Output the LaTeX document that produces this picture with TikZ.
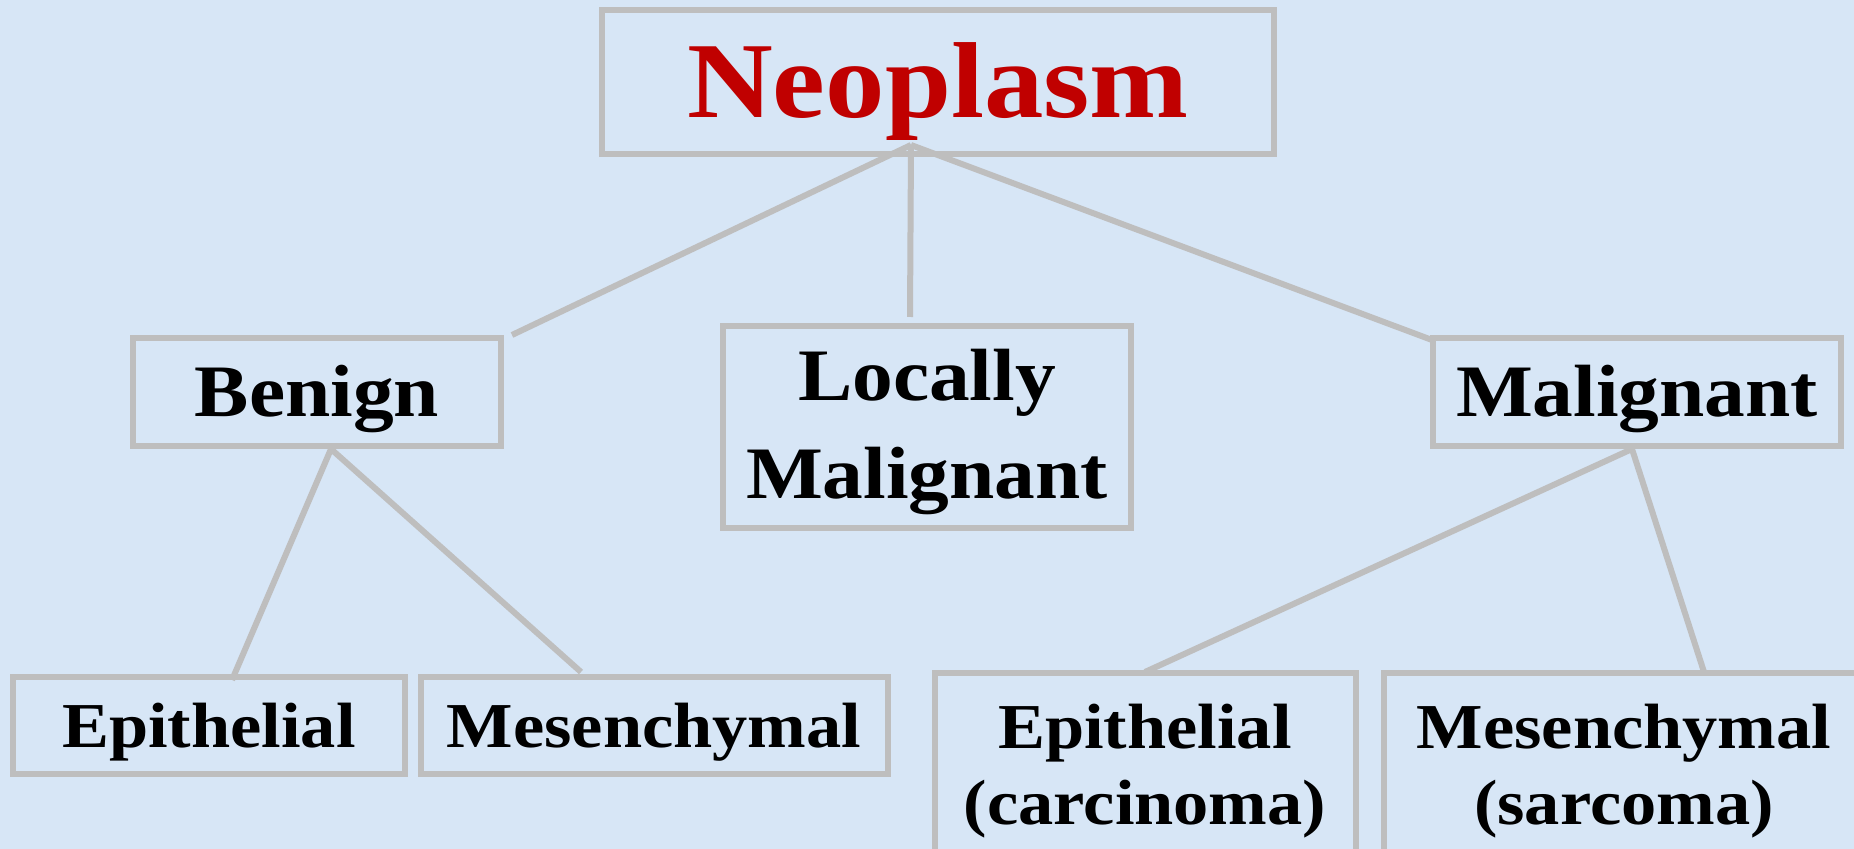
\documentclass[tikz,border=0pt]{standalone}
\usepackage{fontspec}
\setmainfont[FakeStretch=1.1]{Liberation Serif}
\definecolor{bgblue}{RGB}{215,230,246}
\definecolor{boxgray}{RGB}{190,190,190}
\definecolor{neored}{RGB}{192,0,0}
\begin{document}
\begin{tikzpicture}[x=0.5pt,y=-0.5pt,
  box/.style={draw=boxgray, line width=3pt, inner sep=0pt, align=center},
  fbig/.style={font=\bfseries\fontsize{54}{60}\selectfont, text height=48.6pt, text depth=13pt},
  fmid/.style={font=\bfseries\fontsize{37}{44}\selectfont, text height=33.3pt, text depth=8.9pt},
  fsmall/.style={font=\bfseries\fontsize{32}{37}\selectfont, text height=28.8pt, text depth=7.7pt},
  fmidtwo/.style={font=\bfseries\fontsize{37}{49}\selectfont},
  fsmalltwo/.style={font=\bfseries\fontsize{32}{38}\selectfont},
  conn/.style={draw=boxgray, line width=3pt}]
\fill[bgblue] (0,0) rectangle (1854,849);
\useasboundingbox (0,0) rectangle (1854,849);
% boxes
\node[box, fbig, text=neored, minimum width=336pt, minimum height=72pt] (neo) at (938,82) {Neoplasm};
\node[box, fmid, minimum width=184pt, minimum height=54pt] (ben) at (317,392) {Benign};
\node[box, fmidtwo, minimum width=204pt, minimum height=101pt] (loc) at (927,427) {\rule{0pt}{31pt}Locally\\Malignant};
\node[box, fmid, minimum width=204pt, minimum height=54pt] (mal) at (1637,392) {Malignant};
\node[box, fsmall, minimum width=196pt, minimum height=48.5pt] (epi1) at (209,726) {Epithelial};
\node[box, fsmall, minimum width=233.5pt, minimum height=48.5pt] (mes1) at (654,726) {Mesenchymal};
\node[box, fsmalltwo, minimum width=210.5pt, minimum height=98pt] (epi2) at (1145,771) {Epithelial\\(carcinoma)};
\node[box, fsmalltwo, minimum width=240pt, minimum height=98pt] (mes2) at (1624,771) {Mesenchymal\\(sarcoma)};
% connector points
\coordinate (neoA) at (911,145);
\coordinate (benE) at (512,335);
\coordinate (locE) at (910,317);
\coordinate (malE) at (1432,340);
\coordinate (benA) at (331,449);
\coordinate (e1E) at (232,680);
\coordinate (m1E) at (581,672);
\coordinate (malA) at (1632,449);
\coordinate (e2E) at (1145,672);
\coordinate (m2E) at (1704,672);
\draw[conn] (neoA) -- (benE);
\draw[conn] (neoA) -- (locE);
\draw[conn] (neoA) -- (malE);
\draw[conn] (benA) -- (e1E);
\draw[conn] (benA) -- (m1E);
\draw[conn] (malA) -- (e2E);
\draw[conn] (malA) -- (m2E);
\end{tikzpicture}
\end{document}
